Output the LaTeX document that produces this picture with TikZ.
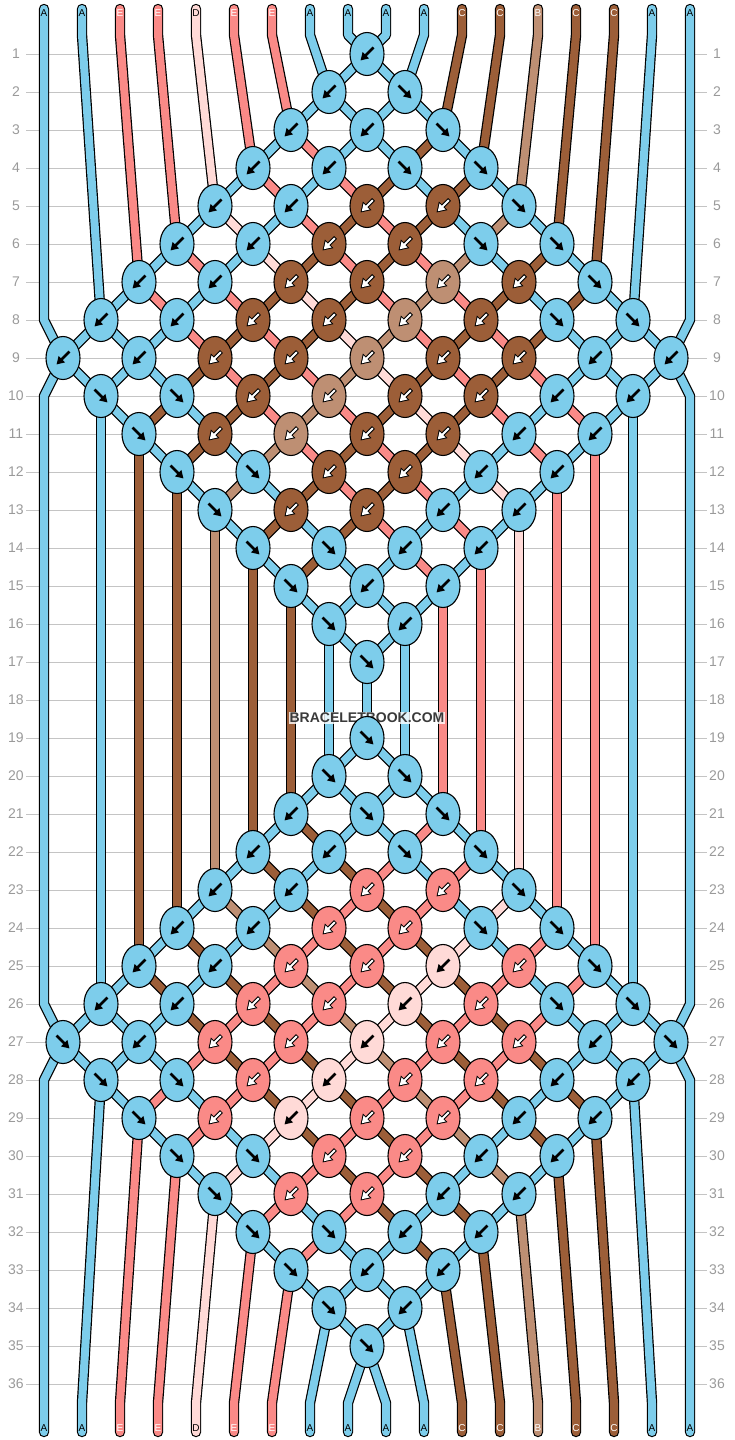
\documentclass[tikz,border=0pt]{standalone}
\usepackage{fontspec}
\setmainfont{Liberation Sans}
\usetikzlibrary{arrows.meta,shapes.geometric}

\definecolor{strA}{HTML}{7DCDEB}
\definecolor{strB}{HTML}{BE8F73}
\definecolor{strC}{HTML}{9C5E38}
\definecolor{strD}{HTML}{FFDAD7}
\definecolor{strE}{HTML}{FA8A87}
\definecolor{rowline}{HTML}{C4C4C4}
\definecolor{rowtext}{HTML}{9A9A9A}
\definecolor{markgray}{HTML}{3A3A3A}

\pgfdeclarelayer{knots}
\pgfsetlayers{main,knots}

% one entry per knot slot: b = backward, f = forward, o = empty
\newcommand\knotrow[2]{\expandafter\def\csname kr#1\endcsname{#2}}
\knotrow{1}{o,o,o,o,b,o,o,o,o}
\knotrow{2}{o,o,o,b,f,o,o,o}
\knotrow{3}{o,o,o,b,b,f,o,o,o}
\knotrow{4}{o,o,b,b,f,f,o,o}
\knotrow{5}{o,o,b,b,b,b,f,o,o}
\knotrow{6}{o,b,b,b,b,f,f,o}
\knotrow{7}{o,b,b,b,b,b,b,f,o}
\knotrow{8}{b,b,b,b,b,b,f,f}
\knotrow{9}{b,b,b,b,b,b,b,b,b}
\knotrow{10}{f,f,b,b,b,b,b,b}
\knotrow{11}{o,f,b,b,b,b,b,b,o}
\knotrow{12}{o,f,f,b,b,b,b,o}
\knotrow{13}{o,o,f,b,b,b,b,o,o}
\knotrow{14}{o,o,f,f,b,b,o,o}
\knotrow{15}{o,o,o,f,b,b,o,o,o}
\knotrow{16}{o,o,o,f,b,o,o,o}
\knotrow{17}{o,o,o,o,f,o,o,o,o}
\knotrow{18}{o,o,o,o,o,o,o,o}
\knotrow{19}{o,o,o,o,f,o,o,o,o}
\knotrow{20}{o,o,o,f,f,o,o,o}
\knotrow{21}{o,o,o,b,f,f,o,o,o}
\knotrow{22}{o,o,b,b,f,f,o,o}
\knotrow{23}{o,o,b,b,b,b,f,o,o}
\knotrow{24}{o,b,b,b,b,f,f,o}
\knotrow{25}{o,b,b,b,b,b,b,f,o}
\knotrow{26}{b,b,b,b,b,b,f,f}
\knotrow{27}{f,b,b,b,b,b,b,b,f}
\knotrow{28}{f,f,b,b,b,b,b,b}
\knotrow{29}{o,f,b,b,b,b,b,b,o}
\knotrow{30}{o,f,f,b,b,b,b,o}
\knotrow{31}{o,o,f,b,b,b,b,o,o}
\knotrow{32}{o,o,f,f,b,b,o,o}
\knotrow{33}{o,o,o,f,b,b,o,o,o}
\knotrow{34}{o,o,o,f,b,o,o,o}
\knotrow{35}{o,o,o,o,f,o,o,o,o}
\knotrow{36}{o,o,o,o,o,o,o,o}

\begin{document}
\begin{tikzpicture}[x=1pt, y=-1pt,
  thread/.style={draw=black, line width=1.2pt, double=#1, double distance=8pt, line cap=round, line join=round},
  knot/.style={ellipse, draw=black, line width=1.1pt, fill=#1, minimum width=34pt, minimum height=43pt, inner sep=0pt},
  rowno/.style={text=rowtext, font=\fontsize{14}{14}\selectfont},
  tag/.style={font=\fontsize{10}{10}\selectfont, inner sep=0pt}]
\useasboundingbox (0,0) rectangle (734,1440);

\foreach \rw in {1,...,36}{
  \node[rowno] (left\rw) at (16,16+38*\rw) {\rw};
  \node[rowno] (right\rw) at (717,16+38*\rw) {\rw};
  \draw[rowline, line width=1pt] (26,16+38*\rw) -- (707,16+38*\rw);
}

% starting strings
\foreach \scol [count=\p from 0] in {A,A,E,E,D,E,E,A,A,A,A,C,C,B,C,C,A,A}{
  \coordinate (in\p) at (44+38*\p,9);
  \coordinate (bend\p) at (44+38*\p,35);
  \expandafter\xdef\csname sc\p\endcsname{\scol}
  \expandafter\xdef\csname sp\p\endcsname{(in\p) -- (bend\p)}
}

% knots, row by row
\foreach \rw in {1,...,36}{
  \expandafter\let\expandafter\ks\csname kr\rw\endcsname
  \pgfmathtruncatemacro\off{mod(\rw+1,2)}
  \pgfmathtruncatemacro\yr{16+38*\rw}
  \gdef\hitL{0}\gdef\hitR{0}
  \foreach \kt [count=\kk from 0] in \ks {
    \if o\kt\else
      \pgfmathtruncatemacro\pl{2*\kk+\off}
      \pgfmathtruncatemacro\pr{\pl+1}
      \pgfmathtruncatemacro\xk{63+38*\pl}
      \edef\cL{\csname sc\pl\endcsname}
      \edef\cR{\csname sc\pr\endcsname}
      \if b\kt \let\kc\cR \def\dx{-1}\else \let\kc\cL \def\dx{1}\fi
      \def\wa{1}\if A\kc \def\wa{0}\fi \if D\kc \def\wa{0}\fi
      \begin{pgfonlayer}{knots}
        \node[knot=str\kc] (n\rw-\kk) at (\xk,\yr) {};
        \ifnum\wa=1
          \draw[line width=4pt, -{Triangle[length=9.5pt,width=11.5pt]}] (\xk-6.5*\dx,\yr-6.5) -- ++(13*\dx,13);
          \draw[white, line width=2pt, shorten >=1.3pt, -{Triangle[length=6.8pt,width=8pt]}] (\xk-5.8*\dx,\yr-5.8) -- ++(12*\dx,12);
        \else
          \draw[line width=2.6pt, -{Triangle[length=7.5pt,width=8.5pt]}] (\xk-6.5*\dx,\yr-6.5) -- ++(13*\dx,13);
        \fi
      \end{pgfonlayer}
      \edef\tmp{\noexpand\draw[thread=str\cL] \csname sp\pl\endcsname -- (n\rw-\kk.center);
        \noexpand\draw[thread=str\cR] \csname sp\pr\endcsname -- (n\rw-\kk.center);}
      \tmp
      \expandafter\xdef\csname sc\pl\endcsname{\cR}
      \expandafter\xdef\csname sc\pr\endcsname{\cL}
      \expandafter\xdef\csname sp\pl\endcsname{(n\rw-\kk.center)}
      \expandafter\xdef\csname sp\pr\endcsname{(n\rw-\kk.center)}
      \ifnum\pl=0 \gdef\hitL{1}\fi
      \ifnum\pr=17 \gdef\hitR{1}\fi
    \fi
  }
  \ifnum\hitL=0
    \coordinate (edgeL\rw) at (44,\yr);
    \expandafter\xdef\csname sp0\endcsname{\csname sp0\endcsname -- (edgeL\rw)}
  \fi
  \ifnum\hitR=0
    \coordinate (edgeR\rw) at (690,\yr);
    \expandafter\xdef\csname sp17\endcsname{\csname sp17\endcsname -- (edgeR\rw)}
  \fi
}

% loose ends
\foreach \p in {0,...,17}{
  \coordinate (low\p) at (44+38*\p,1403);
  \coordinate (out\p) at (44+38*\p,1432);
  \edef\scol{\csname sc\p\endcsname}
  \edef\tmp{\noexpand\draw[thread=str\scol] \csname sp\p\endcsname -- (low\p) -- (out\p);}
  \tmp
  \def\tc{white}\if A\scol \def\tc{black}\fi \if D\scol \def\tc{black}\fi
  \node[tag, text=\tc] (bot\p) at (44+38*\p,1428) {\scol};
}

\foreach \scol [count=\p from 0] in {A,A,E,E,D,E,E,A,A,A,A,C,C,B,C,C,A,A}{
  \def\tc{white}\if A\scol \def\tc{black}\fi \if D\scol \def\tc{black}\fi
  \node[tag, text=\tc] (top\p) at (44+38*\p,13) {\scol};
}

\node[font=\bfseries\fontsize{14}{14}\selectfont, text=markgray, fill=white, fill opacity=0.8, text opacity=1, inner sep=1pt] (mark) at (367,718) {BRACELETBOOK.COM};
\end{tikzpicture}
\end{document}
